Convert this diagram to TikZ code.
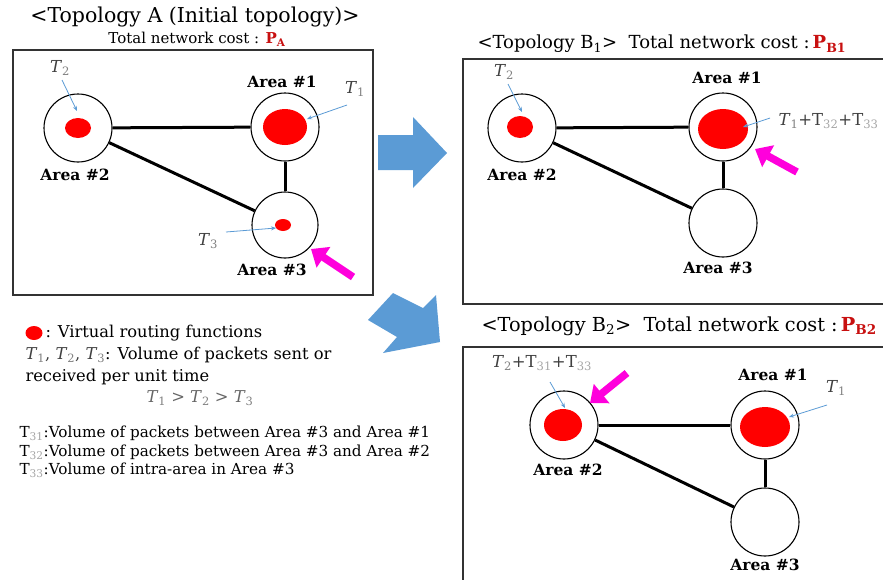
\documentclass[tikz,border=0pt]{standalone}
\usepackage{fontspec}
\setmainfont{DejaVu Serif}
\usetikzlibrary{arrows.meta,shapes.geometric}
\definecolor{tblue}{RGB}{91,155,213}
\definecolor{tmag}{RGB}{255,0,220}
\definecolor{tred}{RGB}{255,0,0}
\definecolor{pred}{RGB}{200,16,16}
\newcommand\Tl[1]{\textit{T}\textsubscript{\color{gray}#1}}
\newcommand\Tu[1]{T\textsubscript{\color{gray!70}#1}}
\begin{document}
\begin{tikzpicture}[x=1pt,y=-1pt,
  area/.style={circle,draw,line width=1.1pt,minimum size=68pt,inner sep=0pt},
  link/.style={line width=3pt},
  panel/.style={draw=black!80,line width=1.6pt},
  vrf/.style={ellipse,fill=tred,inner sep=0pt},
  lbl/.style={font=\fontsize{15.5}{17}\selectfont\bfseries},
  tl/.style={font=\fontsize{16.5}{18}\selectfont,text=black!75},
  ptr/.style={-{Stealth[length=5pt,width=4pt]},draw=tblue,line width=0.8pt},
  big/.style={-{Triangle[length=15pt,width=24pt]},draw=tmag,line width=7.5pt},
  ttl/.style={font=\fontsize{18}{20}\selectfont},
  leg/.style={font=\fontsize{16.3}{18}\selectfont,anchor=west}]
\useasboundingbox (0,0) rectangle (883,579);
\fill[white] (0,0) rectangle (883,579);
% ---------- Topology A ----------
\node[font=\fontsize{20.5}{22}\selectfont] (tA) at (195,17) {<Topology A (Initial topology)>};
\node[font=\fontsize{15}{17}\selectfont] (cA) at (197,39) {Total network cost : \textbf{\color{pred}P\textsubscript{A}}};
\draw[panel] (13,50) rectangle (373,295);
\node[area] (a2) at (78,128) {};
\node[area] (a1) at (285,127) {};
\node[area,minimum size=66pt] (a3) at (285,225) {};
\draw[link] (a2) -- (a1);
\draw[link] (a2) -- (a3);
\draw[link] (a1) -- (a3);
\node[vrf,minimum width=26pt,minimum height=20pt] (a2d) at (78,128) {};
\node[vrf,minimum width=44pt,minimum height=36pt] (a1d) at (285,127) {};
\node[vrf,minimum width=16pt,minimum height=12pt] (a3d) at (283,225) {};
\node[lbl] (a1l) at (282,82) {Area \#1};
\node[lbl] (a2l) at (75,175) {Area \#2};
\node[lbl] (a3l) at (272,270) {Area \#3};
\node[tl] (aT2) at (60,68) {\Tl{2}};
\node[tl] (aT1) at (355,89) {\Tl{1}};
\node[tl] (aT3) at (208,241) {\Tl{3}};
\coordinate (aT2s) at (62,80);
\coordinate (aT1s) at (347,105);
\coordinate (aT3s) at (226,232);
\draw[ptr] (aT2s) -- (77,111);
\draw[ptr] (aT1s) -- (307,119);
\draw[ptr] (aT3s) -- (276,228);
\coordinate (aMs) at (353,277);
\coordinate (aMe) at (311,249);
\draw[big] (aMs) -- (aMe);
% ---------- blue arrows ----------
\fill[tblue] (378,135) -- (413,135) -- (413,117) -- (447,153) -- (413,188) -- (413,170) -- (378,170) -- cycle;
\fill[tblue] (368,320) -- (393,293) -- (423,308) -- (436,295) -- (440,342) -- (383,353) -- (397,337) -- cycle;
% ---------- Topology B1 ----------
\node[ttl,anchor=west] (tB1) at (474,44) {<Topology B\textsubscript{1}>\ \ Total network cost :\,\textbf{\color{pred}P\textsubscript{B1}}};
\draw[panel] (886,59) -- (463,59) -- (463,304) -- (886,304);
\node[area] (b2) at (522,128) {};
\node[area] (b1) at (723,127) {};
\node[area] (b3) at (723,223) {};
\draw[link] (b2) -- (b1);
\draw[link] (b2) -- (b3);
\draw[link] (b1) -- (b3);
\node[vrf,minimum width=26pt,minimum height=22pt] (b2d) at (520,127) {};
\node[vrf,minimum width=50pt,minimum height=40pt] (b1d) at (723,129) {};
\node[lbl] (b1l) at (727,78) {Area \#1};
\node[lbl] (b2l) at (522,175) {Area \#2};
\node[lbl] (b3l) at (718,268) {Area \#3};
\node[tl] (bT2) at (504,72) {\Tl{2}};
\node[tl,anchor=west] (bT1) at (775,121) {\Tl{1}+\Tu{32}+\Tu{33}};
\coordinate (bT2s) at (508,84);
\coordinate (bT1s) at (770,118);
\draw[ptr] (bT2s) -- (522,112);
\draw[ptr] (bT1s) -- (743,127);
\coordinate (bMs) at (797,172);
\coordinate (bMe) at (755,149);
\draw[big] (bMs) -- (bMe);
% ---------- Topology B2 ----------
\node[font=\fontsize{19.3}{21}\selectfont,anchor=west] (tB2) at (478,326) {<Topology B\textsubscript{2}>\ \ Total network cost :\,\textbf{\color{pred}P\textsubscript{B2}}};
\draw[panel] (886,347) -- (463,347) -- (463,582);
\node[area] (c2) at (564,425) {};
\node[area] (c1) at (765,425) {};
\node[area] (c3) at (765,522) {};
\draw[link] (c2) -- (c1);
\draw[link] (c2) -- (c3);
\draw[link] (c1) -- (c3);
\node[vrf,minimum width=38pt,minimum height=32pt] (c2d) at (563,425) {};
\node[vrf,minimum width=50pt,minimum height=40pt] (c1d) at (765,427) {};
\node[lbl] (c1l) at (773,375) {Area \#1};
\node[lbl] (c2l) at (568,470) {Area \#2};
\node[lbl] (c3l) at (765,565) {Area \#3};
\node[tl] (cT2) at (542,363) {\Tl{2}+\Tu{31}+\Tu{33}};
\node[tl] (cT1) at (836,388) {\Tl{1}};
\coordinate (cT2s) at (550,382);
\coordinate (cT1s) at (827,405);
\draw[ptr] (cT2s) -- (565,408);
\draw[ptr] (cT1s) -- (789,417);
\coordinate (cMs) at (627,373);
\coordinate (cMe) at (590,403);
\draw[big] (cMs) -- (cMe);
% ---------- legend ----------
\node[vrf,minimum width=17pt,minimum height=14pt] (ld) at (34,333) {};
\node[leg] (l1) at (42,333) {: Virtual routing functions};
\node[leg,text=black!75] (l2) at (22,355) {\Tl{1}, \Tl{2}, \Tl{3}\textcolor{black}{: Volume of packets sent or}};
\node[leg] (l3) at (22,377) {received per unit time};
\node[leg,anchor=center,text=black!60] (l4) at (200,398) {\Tl{1} > \Tl{2} > \Tl{3}};
\node[leg,font=\fontsize{15.2}{17}\selectfont] (l5) at (16,433) {\Tu{31}:Volume of packets between Area \#3 and Area \#1};
\node[leg,font=\fontsize{15.2}{17}\selectfont] (l6) at (16,452) {\Tu{32}:Volume of packets between Area \#3 and Area \#2};
\node[leg,font=\fontsize{15.2}{17}\selectfont] (l7) at (16,470) {\Tu{33}:Volume of intra-area in Area \#3};
\end{tikzpicture}
\end{document}
